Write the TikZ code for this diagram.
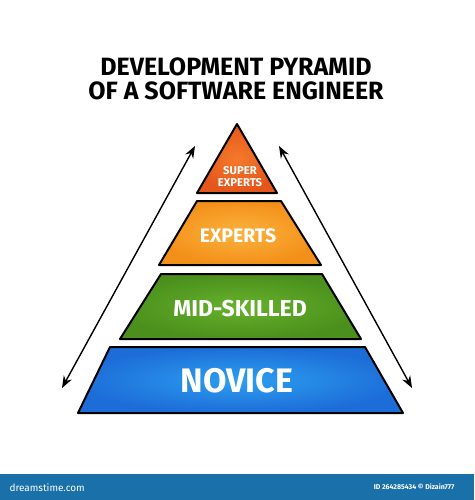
\documentclass[tikz,border=0pt]{standalone}
\usepackage{fontspec}
\setmainfont{Fira Sans}
\usetikzlibrary{arrows.meta}

\definecolor{supercol}{HTML}{E4561C}
\definecolor{superin}{HTML}{F57A2A}
\definecolor{expertcol}{HTML}{F39019}
\definecolor{expertin}{HTML}{FBB33F}
\definecolor{midcol}{HTML}{4B901C}
\definecolor{midin}{HTML}{66B22C}
\definecolor{novicecol}{HTML}{1D6DD8}
\definecolor{novicein}{HTML}{2C9FF0}
\definecolor{barcol}{HTML}{1A70A8}

\tikzset{
	layer/.style={draw=black, line width=2pt, line join=round},
	levellabel/.style={text=white, font=\bfseries, align=center, inner sep=0pt},
	spanarrow/.style={black, line width=1.4pt, {Stealth[length=12pt,width=9pt]}-{Stealth[length=12pt,width=9pt]}}
}

\begin{document}
\begin{tikzpicture}[x=1pt,y=-1pt]
	\useasboundingbox (0,0) rectangle (474,500);

	% title
	\node[font=\fontsize{25}{24}\selectfont\bfseries, align=center] (title) at (236,79) {DEVELOPMENT PYRAMID\\OF A SOFTWARE ENGINEER};

	% pyramid levels
	\draw[layer, inner color=superin, outer color=supercol] (237,124) -- (277,193) -- (197,193) -- cycle;
	\draw[layer, inner color=expertin, outer color=expertcol] (197,201) -- (281,201) -- (321,265) -- (159,265) -- cycle;
	\draw[layer, inner color=midin, outer color=midcol] (161,274) -- (322,274) -- (361,339) -- (120,339) -- cycle;
	\draw[layer, inner color=novicein, outer color=novicecol] (110,347) -- (365,347) -- (403,413) -- (78,413) -- cycle;

	\node[levellabel, font=\fontsize{11.3}{12}\selectfont\bfseries] (super) at (240,177) {SUPER\\EXPERTS};
	\node[levellabel, font=\fontsize{19.5}{22}\selectfont\bfseries] (experts) at (238,236) {EXPERTS};
	\node[levellabel, font=\fontsize{23}{26}\selectfont\bfseries] (mid) at (240,309) {MID-SKILLED};
	\node[levellabel, font=\fontsize{34}{38}\selectfont\bfseries] (novice) at (237,381) {NOVICE};

	% side arrows
	\coordinate (ltop) at (195,146);
	\coordinate (lbot) at (62,388);
	\coordinate (rtop) at (279,146);
	\coordinate (rbot) at (412,388);
	\draw[spanarrow] (ltop) -- (lbot);
	\draw[spanarrow] (rtop) -- (rbot);

	% bottom bar
	\fill[barcol] (0,474) rectangle (474,500);
	\node[text=white, font=\fontsize{10}{12}\selectfont, anchor=west] (site) at (6,488) {dreamstime.com};
	\node[text=white, font=\fontsize{7}{9}\selectfont\bfseries, anchor=east] (credit) at (458,487) {ID 264285434 © Dizain777};
\end{tikzpicture}
\end{document}
